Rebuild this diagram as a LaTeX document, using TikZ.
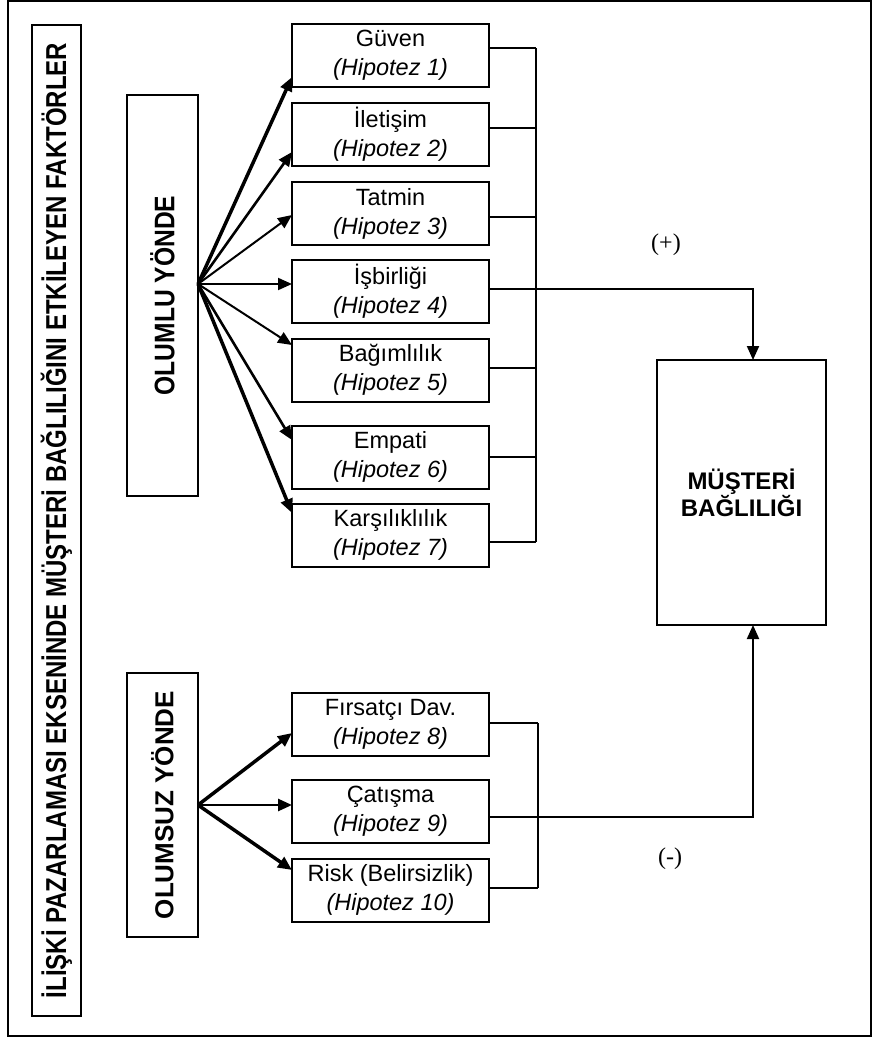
\documentclass[tikz,border=0pt]{standalone}
\usepackage{fontspec}
\setmainfont{Liberation Sans}
\newfontfamily\serifff{Liberation Serif}
\usepackage{graphicx}
\usetikzlibrary{arrows.meta,calc}
\begin{document}
\begin{tikzpicture}[x=1pt,y=-1pt,
  every node/.style={inner sep=0pt, outer sep=0pt},
  hbox/.style={draw, line width=2pt, minimum width=197pt, minimum height=63pt, align=center,
    font=\fontsize{23.5}{29}\selectfont},
  vbox/.style={draw, line width=2pt, font=\bfseries},
  frame/.style={draw, line width=2pt},
  link/.style={line width=2pt},
  arrhead/.style={-{Triangle[length=14pt,width=12pt]}},
  arrA/.style={arrhead, line width=2pt},
  arrB/.style={arrhead, line width=2.6pt},
  arrC/.style={arrhead, line width=3.5pt},
  sign/.style={font=\serifff\fontsize{24}{24}\selectfont},
]
\useasboundingbox (0,0) rectangle (873,1039);
\draw[frame] (8,1) rectangle (871,1036);

% left title
\node[vbox, minimum width=49pt, minimum height=991pt] (title) at (56.5,520.5)
  {\rotatebox{90}{\scalebox{1}[1.2]{\fontsize{24}{24}\selectfont İLİŞKİ PAZARLAMASI EKSENİNDE MÜŞTERİ BAĞLILIĞINI ETKİLEYEN FAKTÖRLER}}};

\node[vbox, minimum width=71pt, minimum height=401pt] (olumlu) at (162.5,295.5)
  {\rotatebox{90}{\scalebox{1}[1.15]{\fontsize{24.6}{24.6}\selectfont OLUMLU YÖNDE}}};
\node[vbox, minimum width=71pt, minimum height=264pt] (olumsuz) at (162.5,805)
  {\rotatebox{90}{\fontsize{26}{26}\selectfont OLUMSUZ YÖNDE}};

% factor boxes
\node[hbox] (g1) at (390.5,55.5) {Güven\\\textit{(Hipotez 1)}};
\node[hbox] (g2) at (390.5,134) {İletişim\\\textit{(Hipotez 2)}};
\node[hbox] (g3) at (390.5,213.5) {Tatmin\\\textit{(Hipotez 3)}};
\node[hbox] (g4) at (390.5,291.5) {İşbirliği\\\textit{(Hipotez 4)}};
\node[hbox] (g5) at (390.5,370) {Bağımlılık\\\textit{(Hipotez 5)}};
\node[hbox] (g6) at (390.5,457) {Empati\\\textit{(Hipotez 6)}};
\node[hbox] (g7) at (390.5,535) {Karşılıklılık\\\textit{(Hipotez 7)}};
\node[hbox] (g8) at (390.5,724) {Fırsatçı Dav.\\\textit{(Hipotez 8)}};
\node[hbox] (g9) at (390.5,811.5) {Çatışma\\\textit{(Hipotez 9)}};
\node[hbox] (g10) at (390.5,890) {Risk (Belirsizlik)\\\textit{(Hipotez 10)}};

% outcome
\node[draw, line width=2pt, minimum width=169pt, minimum height=265pt, align=center,
  font=\bfseries\fontsize{24}{27}\selectfont] (m) at (741.5,492.5) {MÜŞTERİ\\BAĞLILIĞI};

\node[sign] (plus) at (666,245) {(+)};
\node[sign] (minus) at (670,859) {(-)};

% fan arrows (positive)
\coordinate (o1) at (198,284);
\draw[arrC] (o1) -- ($(g1.west)+(0,21.5)$);
\draw[arrB] (o1) -- ($(g2.west)+(0,18)$);
\draw[arrA] (o1) -- ($(g3.west)+(0,1.5)$);
\draw[arrA] (o1) -- ($(g4.west)+(0,-7.5)$);
\draw[arrA] (o1) -- ($(g5.west)+(0,-25)$);
\draw[arrB] (o1) -- ($(g6.west)+(0,-17)$);
\draw[arrC] (o1) -- ($(g7.west)+(0,-22)$);

% fan arrows (negative)
\coordinate (o2) at (olumsuz.east);
\draw[arrC] (o2) -- ($(g8.west)+(0,9)$);
\draw[arrB] (o2) -- ($(g9.west)+(0,-6.5)$);
\draw[arrC] (o2) -- ($(g10.west)+(0,-20)$);

% upper bracket
\coordinate (s1) at ($(g1.east)+(0,-7.5)$);
\coordinate (s2) at ($(g2.east)+(0,-6)$);
\coordinate (s3) at ($(g3.east)+(0,3.5)$);
\coordinate (s4) at ($(g4.east)+(0,-2.5)$);
\coordinate (s5) at ($(g5.east)+(0,-2)$);
\coordinate (s6) at ($(g6.east)+(0,0)$);
\coordinate (s7) at ($(g7.east)+(0,7)$);
\coordinate (bt) at (536,48);
\coordinate (bb) at (536,542);
\draw[link] (bt) -- (bb);
\foreach \i in {1,2,3,5,6,7} { \draw[link] (s\i) -- (s\i -| bt); }
\coordinate (c4) at (753,289);
\draw[link, arrhead] (s4) -- (c4) -- (c4 |- m.north);

% lower bracket
\coordinate (s8) at ($(g8.east)+(0,-1)$);
\coordinate (s9) at ($(g9.east)+(0,5.5)$);
\coordinate (s10) at ($(g10.east)+(0,-2)$);
\coordinate (lt) at (538,723);
\coordinate (lb) at (538,888);
\draw[link] (lt) -- (lb);
\draw[link] (s8) -- (s8 -| lt);
\draw[link] (s10) -- (s10 -| lt);
\coordinate (c9) at (753,817);
\draw[link, arrhead] (s9) -- (c9) -- (c9 |- m.south);
\end{tikzpicture}
\end{document}
